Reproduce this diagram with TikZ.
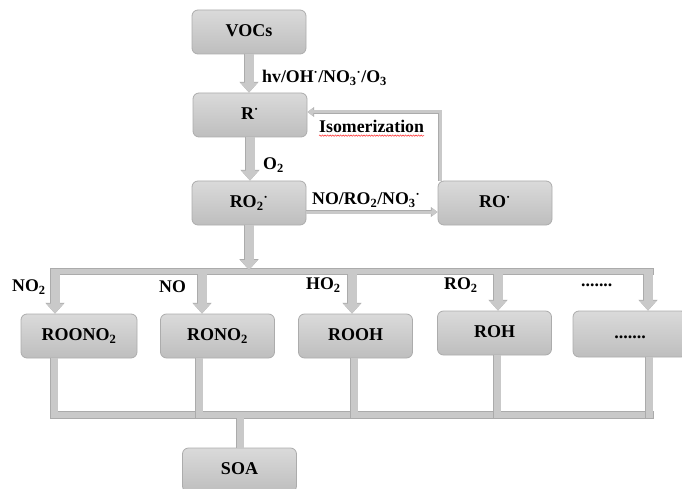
\documentclass[tikz,border=0pt]{standalone}
\usepackage{fontspec}
\setmainfont{Liberation Serif}
\usetikzlibrary{arrows.meta,decorations.pathmorphing}

\definecolor{boxtop}{HTML}{DADADA}
\definecolor{boxbot}{HTML}{BEBEBE}
\definecolor{boxedge}{HTML}{ACACAC}
\definecolor{arrfill}{HTML}{C9C9C9}
\definecolor{arredge}{HTML}{ABABAB}

\tikzset{
  stepbox/.style={draw=boxedge, line width=0.8pt, rounded corners=6pt,
    top color=boxtop, bottom color=boxbot, minimum width=114pt,
    minimum height=44pt, inner sep=0pt, text height=12pt, text depth=3pt,
    font=\bfseries\fontsize{18}{21}\selectfont},
  lbl/.style={inner sep=0pt, font=\bfseries\fontsize{17.8}{21}\selectfont},
  bigarrow/.style={line width=9pt, draw=arrfill,
    -{Triangle[width=17pt,length=10pt]},
    preaction={draw=arredge, line width=10.2pt, -{Triangle[width=18.6pt,length=10.8pt]}}},
  thinarrow/.style={line width=3pt, draw=arrfill, line join=miter,
    -{Triangle[width=8pt,length=6pt]},
    preaction={draw=arredge, line width=4.4pt, -{Triangle[width=9.6pt,length=6.8pt]}}},
  stub/.style={line width=7pt, draw=arrfill,
    preaction={draw=arredge, line width=8.2pt}},
  barshape/.style={fill=arrfill, draw=arredge, line width=0.6pt},
  spell/.style={draw=red!85, line width=0.5pt, decorate,
    decoration={snake, amplitude=0.7pt, segment length=2.6pt}},
}

\begin{document}
\begin{tikzpicture}[x=1pt,y=1pt,yscale=-1]
\useasboundingbox (0,0) rectangle (682,489);

% upper chain
\node[stepbox] (voc) at (249,32) {VOCs};
\node[stepbox] (rad) at (250,115) {R\textsuperscript{·}};
\node[stepbox] (ro2) at (249,203) {RO\textsubscript{2}\textsuperscript{·}};
\node[stepbox] (ro) at (495,203) {RO\textsuperscript{·}};

% product boxes
\node[stepbox, minimum width=116pt] (roono2) at (79,336) {ROONO\textsubscript{2}};
\node[stepbox] (rono2) at (217.5,336) {RONO\textsubscript{2}};
\node[stepbox] (rooh) at (355.5,336) {ROOH};
\node[stepbox] (roh) at (494.5,333) {ROH};
\node[stepbox, minimum height=46pt] (other) at (630,334) {.......};
\node[stepbox] (soa) at (239.5,470) {SOA};

% Text Node
\node[lbl, anchor=west] (hv) at (262,78) {hv/OH\textsuperscript{·}/NO\textsubscript{3}\textsuperscript{·}/O\textsubscript{3}};
\node[lbl, anchor=west, text depth=2.5pt] (iso) at (319,128) {Isomerization};
\node[lbl, anchor=west] (o2) at (263,165) {O\textsubscript{2}};
\node[lbl, anchor=west] (nox) at (312,200) {NO/RO\textsubscript{2}/NO\textsubscript{3}\textsuperscript{·}};
\node[lbl, anchor=west] (lno2) at (12,287) {NO\textsubscript{2}};
\node[lbl, anchor=west] (lno) at (159,287) {NO};
\node[lbl, anchor=west] (lho2) at (306,285) {HO\textsubscript{2}};
\node[lbl, anchor=west] (lro2) at (444,285) {RO\textsubscript{2}};
\node[lbl, anchor=base west] (ldots) at (581,286) {.......};
\draw[spell] (iso.south west) -- (iso.south east);

% buses
\draw[barshape] (50,268) rectangle (653,274);
\draw[barshape] (50,411) rectangle (653,418);

\coordinate (tin) at (248,270);
\coordinate (lvl) at (0,212);
\coordinate (fb) at (440,112);
\coordinate (t1) at (55,274);
\coordinate (t2) at (202,274);
\coordinate (t3) at (352,274);
\coordinate (t4) at (498,274);
\coordinate (t5) at (648,274);
\coordinate (b1) at (54,418);
\coordinate (b2) at (199,418);
\coordinate (b3) at (354,418);
\coordinate (b4) at (497,418);
\coordinate (b5) at (649,418);
\coordinate (bs) at (240,418);

% connectors
\draw[bigarrow] (voc.south) -- (voc.south |- rad.north);
\draw[bigarrow] (rad.south) -- (rad.south |- ro2.north);
\draw[bigarrow] (ro2.south) -- (ro2.south |- tin);
\foreach \c/\n in {t1/roono2, t2/rono2, t3/rooh, t4/roh, t5/other}
  \draw[bigarrow] (\c) -- (\c |- \n.north);
\foreach \c/\n in {b1/roono2, b2/rono2, b3/rooh, b4/roh, b5/other}
  \draw[stub] (\c |- \n.south) -- (\c);
\draw[stub] (bs) -- (bs |- soa.north);

\draw[thinarrow] (ro2.east |- lvl) -- (ro.west |- lvl);
\draw[thinarrow] (fb |- ro.north) -- (fb) -- (fb -| rad.east);

\end{tikzpicture}
\end{document}
